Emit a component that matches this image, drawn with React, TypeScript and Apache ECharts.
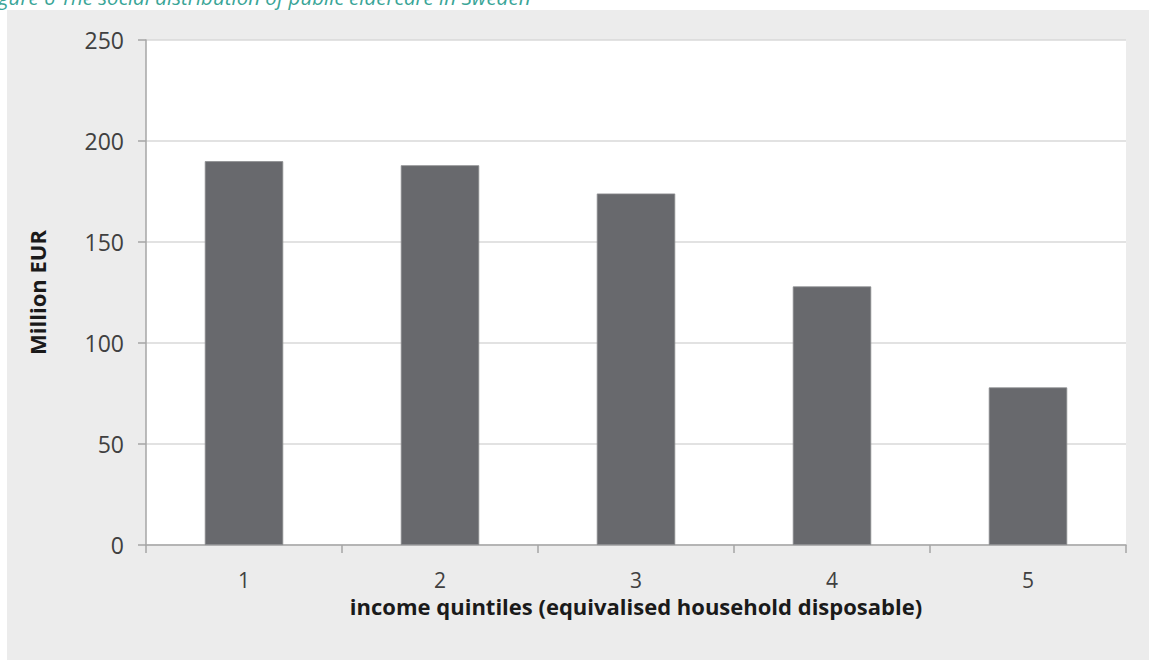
import React, { useEffect, useRef } from "react";
import * as echarts from "echarts";

const categories = ["1", "2", "3", "4", "5"];
const values = [190, 188, 174, 128, 78];
const yTicks = { min: 0, max: 250, interval: 50 };
const titleText = "Figure 6 The social distribution of public eldercare in Sweden";
const xName = "income quintiles (equivalised household disposable)";
const yName = "Million EUR";

export default function App() {
  const ref = useRef<HTMLDivElement>(null);
  useEffect(() => {
    document.body.style.margin = "0";
    const chart = echarts.init(ref.current!, null, { renderer: "svg" });
    chart.setOption({
      animation: false,
      backgroundColor: "#ffffff",
      graphic: [
        {
          type: "rect",
          shape: { x: 7, y: 10, width: 1142, height: 650 },
          style: { fill: "#ececec" },
          z: -10,
        },
        {
          type: "text",
          x: -17,
          y: 7,
          style: {
            text: titleText,
            fill: "#3aa597",
            font: "italic 20.5px 'Open Sans'",
            textVerticalAlign: "bottom",
          },
        },
      ],
      grid: {
        left: 146,
        right: 23,
        top: 40,
        bottom: 115,
        show: true,
        backgroundColor: "#ffffff",
        borderWidth: 0,
      },
      xAxis: {
        type: "category",
        data: categories,
        name: xName,
        nameLocation: "middle",
        nameGap: 50,
        nameTextStyle: { fontFamily: "Open Sans", fontWeight: "bold", fontSize: 22, color: "#1a1a1a" },
        axisLine: { lineStyle: { color: "#a6a6a6", width: 1.5 } },
        axisTick: { show: true, length: 8, lineStyle: { color: "#a6a6a6", width: 1.5 } },
        axisLabel: { fontFamily: "Open Sans", fontSize: 21, color: "#404040", margin: 24 },
      },
      yAxis: {
        type: "value",
        min: yTicks.min,
        max: yTicks.max,
        interval: yTicks.interval,
        name: yName,
        nameLocation: "middle",
        nameGap: 98,
        nameTextStyle: { fontFamily: "Open Sans", fontWeight: "bold", fontSize: 22, color: "#1a1a1a" },
        axisLine: { show: true, lineStyle: { color: "#a6a6a6", width: 1.5 } },
        axisTick: { show: true, length: 8, lineStyle: { color: "#a6a6a6", width: 1.5 } },
        axisLabel: { fontFamily: "Open Sans", fontSize: 23, color: "#404040", margin: 22 },
        splitLine: { lineStyle: { color: "#d9d9d9", width: 1.5 } },
      },
      series: [
        {
          type: "bar",
          data: values,
          barWidth: "40%",
          itemStyle: { color: "#68696d", borderColor: "#8a8b8e", borderWidth: 0.8 },
        },
      ],
    });
    return () => chart.dispose();
  }, []);
  return <div ref={ref} style={{ width: 1149, height: 660 }} />;
}
